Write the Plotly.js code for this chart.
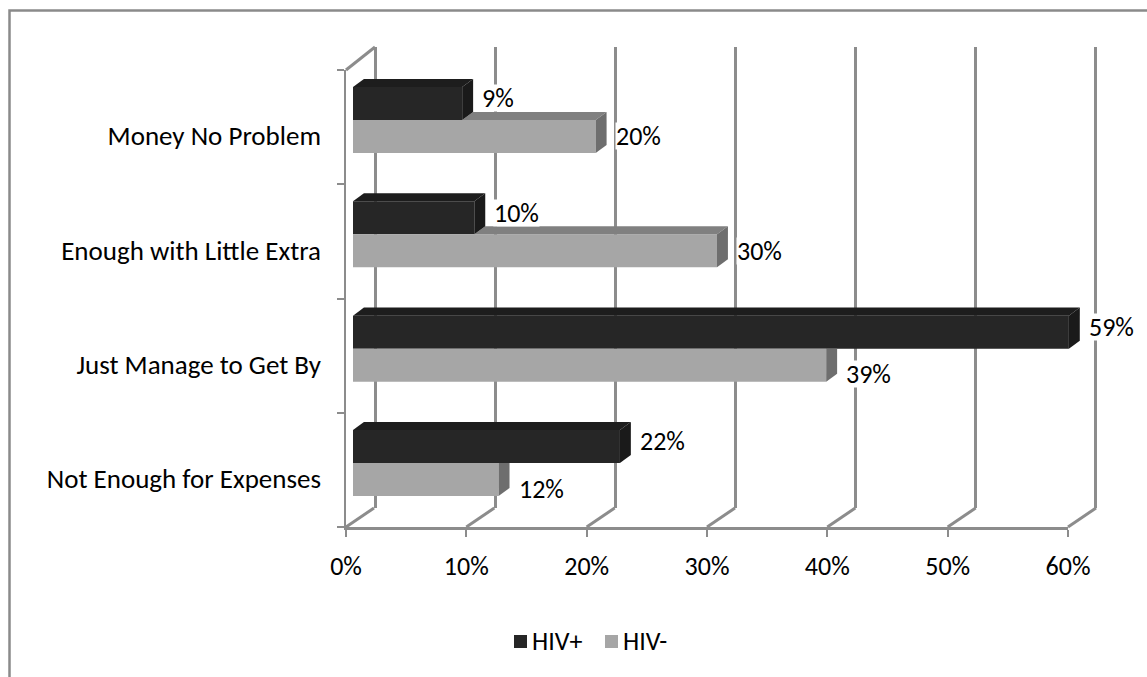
<!DOCTYPE html>
<html>
<head>
<meta charset="utf-8">
<script src="https://cdn.plot.ly/plotly-3.0.1.min.js"></script>
<style>
  html, body { margin: 0; padding: 0; background: #ffffff; }
  #chart { width: 1147px; height: 677px; }
</style>
</head>
<body>
<div id="chart"></div>
<script>
// ---------- data ----------
const categories = ['Money No Problem', 'Enough with Little Extra', 'Just Manage to Get By', 'Not Enough for Expenses'];
const seriesNames = ['HIV+', 'HIV-'];
const hivPos = [0.09, 0.10, 0.59, 0.22];
const hivNeg = [0.20, 0.30, 0.39, 0.12];
const xTickVals = [0, 0.1, 0.2, 0.3, 0.4, 0.5, 0.6];

// ---------- style ----------
const W = 1147, H = 677;
const FONT = 'Carlito, Lato, sans-serif';
const FS = 26;
const GRID = '#8c8c8c';
const C_POS = { front: '#262626', top: '#1d1d1d', side: '#1a1a1a' };
const C_NEG = { front: '#a6a6a6', top: '#808080', side: '#6e6e6e' };
const BW = 0.289;   // bar thickness (category units)
const D = 0.009;    // 3D depth along x (value units)
const E = 0.07;     // 3D depth along y (category units)
const X_RANGE = [0, 0.6];
const px = v => v / W;
const py = v => (H - v) / H;

const idx = categories.map((c, i) => i);
const pct = v => Math.round(v * 100) + '%';

const traces = [
  // back-wall gridlines subplot
  { type: 'scatter', x: [], y: [], xaxis: 'x', yaxis: 'y', showlegend: false, hoverinfo: 'skip' },
  // front frame subplot
  { type: 'scatter', x: [], y: [], xaxis: 'x2', yaxis: 'y2', showlegend: false, hoverinfo: 'skip' },
  {
    type: 'bar', orientation: 'h', name: seriesNames[0],
    x: hivPos, y: idx, offset: -BW, width: BW,
    marker: { color: C_POS.front, line: { width: 0 } },
    xaxis: 'x3', yaxis: 'y3', hoverinfo: 'x+name'
  },
  {
    type: 'bar', orientation: 'h', name: seriesNames[1],
    x: hivNeg, y: idx, offset: 0, width: BW,
    marker: { color: C_NEG.front, line: { width: 0 } },
    xaxis: 'x3', yaxis: 'y3', hoverinfo: 'x+name'
  }
];

// ---------- 3D faces ----------
const shapes = [];
const face = (path, color) => shapes.push({
  type: 'path', xref: 'x3', yref: 'y3', path: path,
  fillcolor: color, line: { width: 0 }, layer: 'above'
});
idx.forEach(i => {
  const p = hivPos[i], n = hivNeg[i];
  const yt = i - BW;
  if (n > p) {
    face(`M${p},${i} L${n},${i} L${n + D},${i - E} L${p + D},${i - E} Z`, C_NEG.top);
    face(`M${n},${i} L${n + D},${i - E} L${n + D},${i + BW - E} L${n},${i + BW} Z`, C_NEG.side);
  } else {
    face(`M${n},${i} L${n + D},${i} L${n + D},${i + BW - E} L${n},${i + BW} Z`, C_NEG.side);
  }
  face(`M0,${yt} L${p},${yt} L${p + D},${yt - E} L${D},${yt - E} Z`, C_POS.top);
  face(`M${p},${yt} L${p + D},${yt - E} L${p + D},${i - E} L${p},${i} Z`, C_POS.side);
});

// floor diagonals joining front ticks to back gridlines (domain refs: not clipped)
const frac = v => (v - X_RANGE[0]) / (X_RANGE[1] - X_RANGE[0]);
xTickVals.forEach(v => shapes.push({
  type: 'line', xref: 'x2 domain', yref: 'y2 domain',
  xsizemode: 'pixel', xanchor: frac(v), x0: 0, x1: 28,
  ysizemode: 'pixel', yanchor: 0, y0: 0, y1: 19,
  line: { color: GRID, width: 3 }, layer: 'below'
}));
// top-left wall diagonal
shapes.push({
  type: 'line', xref: 'x2 domain', yref: 'y2 domain',
  xsizemode: 'pixel', xanchor: 0, x0: 0, x1: 29,
  ysizemode: 'pixel', yanchor: 1, y0: 0, y1: 23,
  line: { color: GRID, width: 3 }, layer: 'below'
});
// chart-area border
shapes.push({
  type: 'rect', xref: 'paper', yref: 'paper',
  x0: px(9.5), x1: px(1200), y0: py(10.5), y1: py(720),
  line: { color: '#8a8a8a', width: 2.5 }, fillcolor: 'rgba(0,0,0,0)', layer: 'below'
});

// ---------- legend (compact, Excel style) ----------
const legendItems = [
  { name: seriesNames[0], color: C_POS.front, x: 514 },
  { name: seriesNames[1], color: C_NEG.front, x: 605 }
];
const annotations = [];
legendItems.forEach(it => {
  shapes.push({
    type: 'rect', xref: 'paper', yref: 'paper',
    x0: px(it.x), x1: px(it.x + 13), y0: py(648), y1: py(635),
    fillcolor: it.color, line: { width: 0 }
  });
  annotations.push({
    xref: 'paper', yref: 'paper', x: px(it.x + 16), y: py(641), text: it.name,
    xanchor: 'left', yanchor: 'middle', showarrow: false,
    font: { family: FONT, size: FS, color: '#000' }
  });
});

// ---------- data labels ----------
idx.forEach(i => {
  annotations.push({
    xref: 'x3', yref: 'y3', x: hivPos[i], y: i - BW / 2, text: pct(hivPos[i]),
    xanchor: 'left', yanchor: 'middle', xshift: 19, yshift: 5, showarrow: false,
    bgcolor: '#ffffff', borderpad: 0, height: 26, valign: 'middle',
    font: { family: FONT, size: FS, color: '#000' }
  });
  annotations.push({
    xref: 'x3', yref: 'y3', x: hivNeg[i], y: i + BW / 2, text: pct(hivNeg[i]),
    xanchor: 'left', yanchor: 'middle', xshift: 19,
    yshift: hivNeg[i] < hivPos[i] ? -9 : 0, showarrow: false,
    bgcolor: '#ffffff', borderpad: 0, height: 26, valign: 'middle',
    font: { family: FONT, size: FS, color: '#000' }
  });
});

const layout = {
  width: W, height: H,
  margin: { l: 0, r: 0, t: 0, b: 0 },
  paper_bgcolor: '#ffffff', plot_bgcolor: 'rgba(0,0,0,0)',
  font: { family: FONT, size: FS, color: '#000000' },
  barmode: 'overlay',
  showlegend: false,
  // back wall (gridlines); range padded so the end gridlines are drawn
  xaxis: {
    domain: [px(369), px(1101)], range: [-0.005, 0.605], tickvals: xTickVals,
    showgrid: true, gridcolor: GRID, gridwidth: 3, zeroline: false,
    showticklabels: false, ticks: '', showline: false, anchor: 'y', fixedrange: true
  },
  yaxis: {
    domain: [py(508), py(47)], range: [0, 1], visible: false, showgrid: false,
    zeroline: false, anchor: 'x', fixedrange: true
  },
  // front frame with tick labels
  xaxis2: {
    domain: [px(346), px(1068)], range: X_RANGE, tickvals: xTickVals, tickformat: '.0%',
    ticks: 'outside', ticklen: 7, tickwidth: 2, tickcolor: GRID,
    showline: true, linecolor: GRID, linewidth: 2.5, showgrid: false, zeroline: false,
    anchor: 'y2', ticklabelstandoff: 7, fixedrange: true,
    tickfont: { family: FONT, size: FS, color: '#000' }
  },
  yaxis2: {
    domain: [py(527), py(70)], range: [0, 4], dtick: 1,
    ticks: 'outside', ticklen: 7, tickwidth: 2, tickcolor: GRID, showticklabels: false,
    showline: true, linecolor: GRID, linewidth: 2.5, showgrid: false, zeroline: false,
    anchor: 'x2', fixedrange: true
  },
  // bars
  xaxis3: {
    domain: [px(353), px(1081)], range: X_RANGE, visible: false,
    showgrid: false, zeroline: false, anchor: 'y3', fixedrange: true
  },
  yaxis3: {
    domain: [py(520.2), py(62.8)], range: [3.5, -0.5],
    tickvals: idx, ticktext: categories, ticks: '', showline: false, showgrid: false,
    zeroline: false, anchor: 'free', position: px(346), side: 'left',
    ticklabelstandoff: 25, ticklabelshift: -16, fixedrange: true,
    tickfont: { family: FONT, size: 27, color: '#000' }
  },
  shapes: shapes,
  annotations: annotations
};

Plotly.newPlot('chart', traces, layout, { displayModeBar: false, staticPlot: true });
</script>
</body>
</html>
